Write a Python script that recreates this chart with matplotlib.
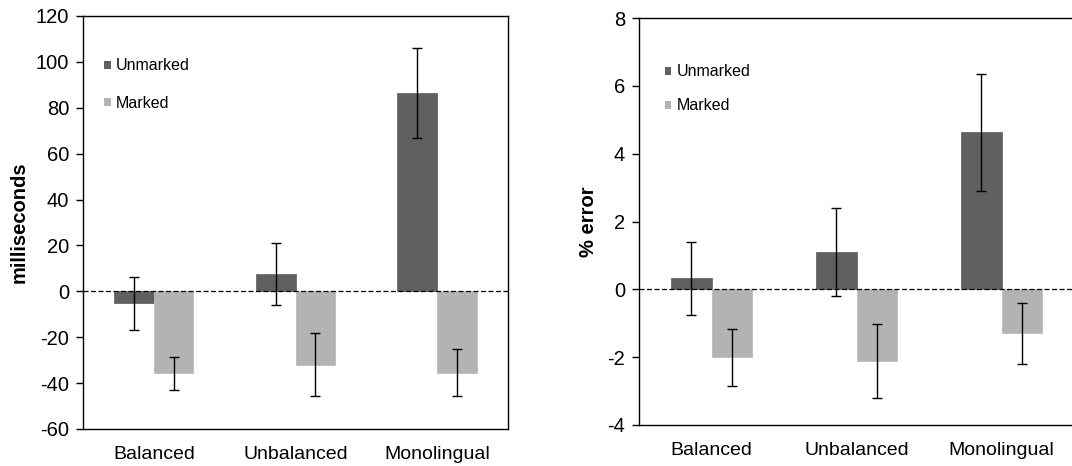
import numpy as np
import matplotlib
matplotlib.use("Agg")
import matplotlib.pyplot as plt
from matplotlib.patches import Patch

plt.rcParams['font.family'] = ['Liberation Sans', 'DejaVu Sans']

# данные
groups = ["Balanced", "Unbalanced", "Monolingual"]

ms_unmarked = [-5.2, 7.4, 86.5]
ms_unmarked_err = [11.5, 13.5, 19.7]
ms_marked = [-35.8, -32.0, -35.4]
ms_marked_err = [7.2, 13.7, 10.3]

err_unmarked = [0.32, 1.1, 4.63]
err_unmarked_err = [1.07, 1.29, 1.72]
err_marked = [-2.0, -2.1, -1.3]
err_marked_err = [0.84, 1.09, 0.89]

dark = "#606060"
light = "#b3b3b3"

fig = plt.figure(figsize=(10.72, 4.66), dpi=100)


def panel(ax, unm, unm_e, mar, mar_e, ylim, yticks, ylabel, leg_anchor, spacing, lpad):
    x = np.arange(len(groups))
    w = 0.28
    ax.bar(x - w / 2, unm, w, color=dark, edgecolor="#6a6a6a", linewidth=0.6, zorder=2)
    ax.bar(x + w / 2, mar, w, color=light, edgecolor="#bcbcbc", linewidth=0.6, zorder=2)
    ax.errorbar(x - w / 2, unm, yerr=unm_e, fmt="none", ecolor="black",
                elinewidth=1, capsize=3.5, capthick=1, zorder=4)
    ax.errorbar(x + w / 2, mar, yerr=mar_e, fmt="none", ecolor="black",
                elinewidth=1, capsize=3.5, capthick=1, zorder=4)
    ax.axhline(0, color="black", linestyle=(0, (4, 2)), linewidth=0.9, zorder=3)
    ax.set_xlim(-0.5, 2.5)
    ax.set_ylim(*ylim)
    ax.set_yticks(yticks)
    ax.set_yticklabels([str(t) for t in yticks], fontsize=14.5)
    ax.set_xticks(x)
    ax.set_xticklabels(groups, fontsize=14)
    ax.tick_params(axis="x", length=0, pad=12)
    ax.tick_params(axis="y", length=5, width=1, pad=5)
    ax.set_ylabel(ylabel, fontsize=14.5, fontweight="bold", labelpad=lpad)
    for s in ax.spines.values():
        s.set_linewidth(1)
    handles = [Patch(facecolor=dark, label="Unmarked"),
               Patch(facecolor=light, label="Marked")]
    ax.legend(handles=handles, loc="upper left", bbox_to_anchor=leg_anchor,
              frameon=False, fontsize=11.5, handlelength=0.4, handleheight=0.4,
              handletextpad=0.35, labelspacing=spacing, borderaxespad=0)


ax1 = fig.add_axes([83 / 1072, 37 / 466, 425 / 1072, 413 / 466])
panel(ax1, ms_unmarked, ms_unmarked_err, ms_marked, ms_marked_err,
      (-60, 120), list(range(-60, 121, 20)), "milliseconds", (0.035, 0.913), 1.4, 5)

ax2 = fig.add_axes([639 / 1072, 41 / 466, 435 / 1072, 407 / 466])
panel(ax2, err_unmarked, err_unmarked_err, err_marked, err_marked_err,
      (-4, 8), list(range(-4, 9, 2)), "% error", (0.045, 0.902), 1.2, 6.5)

fig.savefig("out.png", dpi=100)
